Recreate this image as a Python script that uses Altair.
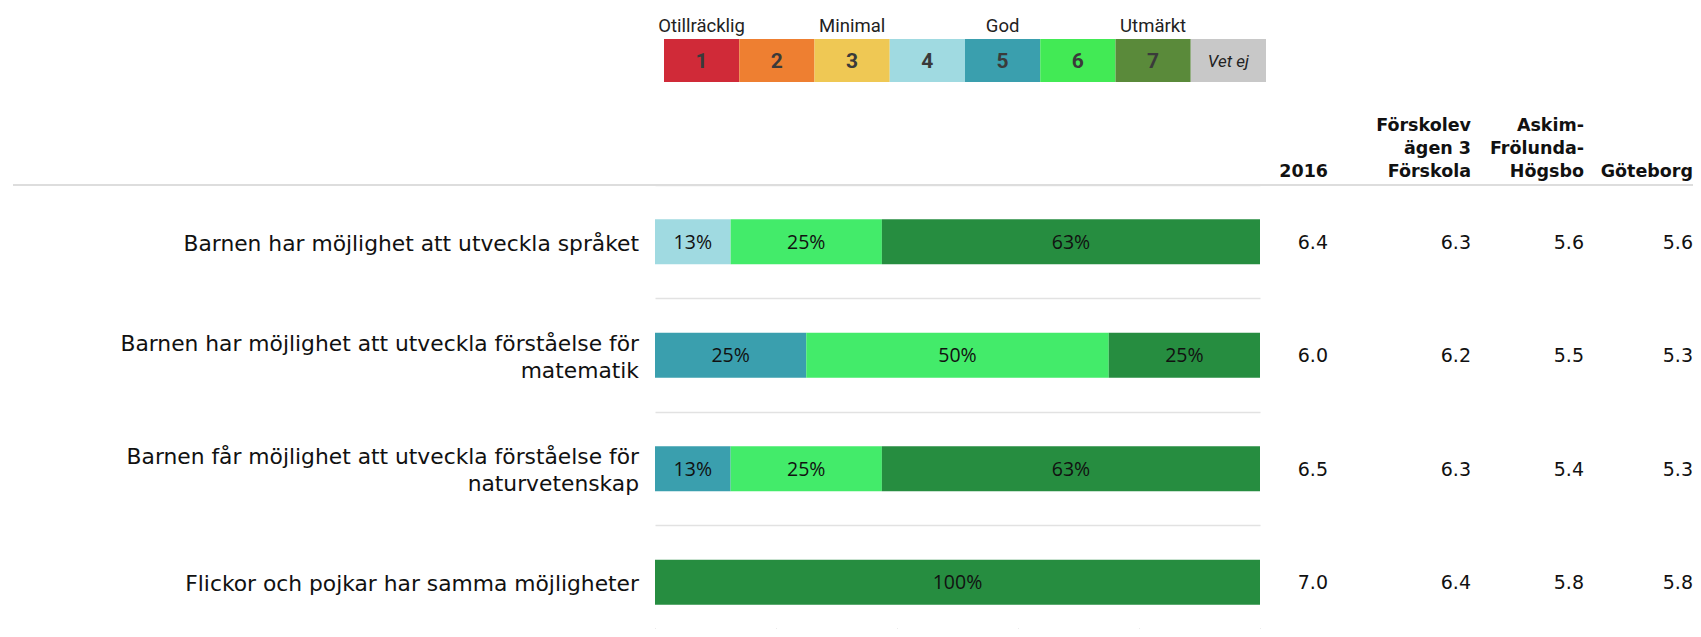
import altair as alt
import pandas as pd

# ---------------- data ----------------
items = [
    "Barnen har möjlighet att utveckla språket",
    "Barnen har möjlighet att utveckla förståelse för\nmatematik",
    "Barnen får möjlighet att utveckla förståelse för\nnaturvetenskap",
    "Flickor och pojkar har samma möjligheter",
]
seg_ratings = [[4, 6, 7], [5, 6, 7], [5, 6, 7], [7]]
seg_shares = [[12.5, 25, 62.5], [25, 50, 25], [12.5, 25, 62.5], [100]]

col_headers = ["2016", "Förskolev\nägen 3\nFörskola", "Askim-\nFrölunda-\nHögsbo", "Göteborg"]
val_2016 = [6.4, 6.0, 6.5, 7.0]
val_forskola = [6.3, 6.2, 6.3, 6.4]
val_sdn = [5.6, 5.5, 5.4, 5.8]
val_gbg = [5.6, 5.3, 5.3, 5.8]

legend_cats = ["1", "2", "3", "4", "5", "6", "7", "Vet ej"]
legend_words = ["Otillräcklig", "", "Minimal", "", "God", "", "Utmärkt", ""]
legend_colors = ["#d02a38", "#ee7f31", "#efc854", "#a0dae1", "#3a9fae", "#42ea55", "#5a8a3a", "#c8c8c8"]

bar_ratings = [4, 5, 6, 7]
bar_colors = ["#a0dae1", "#3a9fae", "#43eb6a", "#268d40"]

# ---------------- tables ----------------
seg_rows = []
for it, rs, ss in zip(items, seg_ratings, seg_shares):
    for r, s in zip(rs, ss):
        seg_rows.append({"item": it, "rating": r, "share": s})
seg_df = pd.DataFrame(seg_rows)

item_df = pd.DataFrame({"item": items})

col_values = [val_2016, val_forskola, val_sdn, val_gbg]
leg_df = pd.DataFrame({"cat": legend_cats, "word": legend_words})

# layout (pixels relative to the bar area)
W, H = 605, 444
Y_RANGE = [0, 454]
col_x = [673, 816, 929, 1038]
LABEL_FONT = "DejaVu Sans"
NARROW = "Roboto"

y_scale = alt.Scale(paddingInner=0, paddingOuter=0, range=Y_RANGE)
y_enc = alt.Y("item:N", sort=items, title=None, scale=y_scale)

# header line
header_rule = alt.Chart(pd.DataFrame({"a": [0]})).mark_rule(
    color="#dddddd", strokeWidth=2
).encode(x=alt.value(-642), x2=alt.value(1046), y=alt.value(0))

stacked = alt.Chart(seg_df).transform_stack(
    stack="share", as_=["x0", "x1"], groupby=["item"],
    sort=[alt.SortField("rating", order="ascending")]
)

bars = stacked.mark_bar(height=45).encode(
    x=alt.X("x0:Q", scale=alt.Scale(domain=[0, 100], nice=False),
            axis=alt.Axis(values=[0, 20, 40, 60, 80, 100], labels=False, domain=False,
                          grid=False, ticks=True, tickColor="#d6d6d6", tickSize=8,
                          offset=-1, title=None)),
    x2="x1:Q",
    y=alt.Y("item:N", sort=items, title=None, scale=y_scale,
            axis=alt.Axis(labels=False, ticks=False, domain=False, grid=True,
                          bandPosition=0, gridColor="#e2e2e2", gridWidth=1.5)),
    color=alt.Color("rating:O", scale=alt.Scale(domain=bar_ratings, range=bar_colors), legend=None),
)

pct = stacked.transform_calculate(
    mid="(datum.x0 + datum.x1) / 2",
    label="round(datum.share) + '%'",
).mark_text(font="Open Sans", fontSize=19.5, color="#111111", dy=1).encode(
    x=alt.X("mid:Q", scale=alt.Scale(domain=[0, 100], nice=False), axis=None),
    y=y_enc,
    text="label:N",
)

label_props = dict(align="right", baseline="middle", lineBreak="\n", lineHeight=27,
                   font=LABEL_FONT, fontSize=21.8, color="#111111")
row_labels_1 = alt.Chart(item_df).transform_filter(
    "indexof(datum.item, '\\n') < 0"
).mark_text(dy=2, **label_props).encode(x=alt.value(-16), y=y_enc, text="item:N")
row_labels_2 = alt.Chart(item_df).transform_filter(
    "indexof(datum.item, '\\n') >= 0"
).mark_text(dy=-11.5, **label_props).encode(x=alt.value(-16), y=y_enc, text="item:N")

table_layers = []
for name, vals, xpos in zip(col_headers, col_values, col_x):
    tdf = pd.DataFrame({"item": items, "value": vals})
    table_layers.append(
        alt.Chart(tdf).mark_text(
            align="right", baseline="middle", font="DejaVu Sans", fontSize=19, color="#111111", dy=1
        ).encode(x=alt.value(xpos), y=y_enc, text=alt.Text("value:Q", format=".1f"))
    )
    n_lines = name.count("\n") + 1
    table_layers.append(
        alt.Chart(pd.DataFrame({"h": [name]})).mark_text(
            align="right", baseline="bottom", lineBreak="\n", lineHeight=23,
            dy=-(n_lines - 1) * 23,
            font="DejaVu Sans", fontSize=17.5, fontWeight="bold", color="#111111"
        ).encode(x=alt.value(xpos), y=alt.value(-4), text="h:N")
    )

leg_x = alt.X("cat:N", sort=legend_cats, axis=None,
              scale=alt.Scale(domain=legend_cats, range=[9, 611], paddingInner=0, paddingOuter=0))

leg_boxes = alt.Chart(leg_df).mark_rect().encode(
    x=leg_x, y=alt.value(-146), y2=alt.value(-103),
    color=alt.Color("cat:N", scale=alt.Scale(domain=legend_cats, range=legend_colors), legend=None),
)
leg_nums = alt.Chart(leg_df).transform_filter(alt.datum.cat != "Vet ej").mark_text(
    font=NARROW, fontSize=21, fontWeight="bold", color="#3a3a3a", baseline="middle"
).encode(x=leg_x, y=alt.value(-123), text="cat:N")
leg_vet = alt.Chart(leg_df).transform_filter(alt.datum.cat == "Vet ej").mark_text(
    font=NARROW, fontSize=17, fontStyle="italic", color="#222222", baseline="middle"
).encode(x=leg_x, y=alt.value(-123), text="cat:N")
leg_words = alt.Chart(leg_df).mark_text(
    font=NARROW, fontSize=18.5, color="#222222", baseline="middle"
).encode(x=leg_x, y=alt.value(-159), text="word:N")

chart = alt.layer(
    header_rule, bars, pct, row_labels_1, row_labels_2, *table_layers,
    leg_boxes, leg_nums, leg_vet, leg_words
).resolve_scale(x="independent", color="independent").properties(
    width=W, height=H,
    background="white",
    autosize=alt.AutoSizeParams(type="none"),
    padding={"left": 647, "top": 177, "right": 433, "bottom": 0},
).configure_axis(
    domain=False, labels=False, ticks=False, grid=False
).configure_view(
    strokeWidth=0, stroke="transparent"
)

chart.save("out.html", embed_options={"renderer": "svg", "actions": False})
